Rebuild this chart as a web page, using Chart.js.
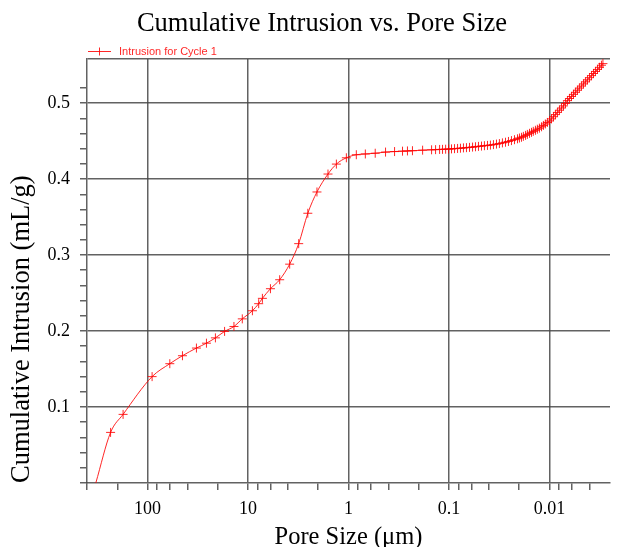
<!DOCTYPE html>
<html><head><meta charset="utf-8">
<script src="https://cdn.jsdelivr.net/npm/chart.js@4/dist/chart.umd.min.js"></script>
<style>html,body{margin:0;padding:0;background:#fff;}#wrap{width:619px;height:547px;}</style>
</head><body><div id="wrap"><canvas id="c" width="619" height="547"></canvas></div>
<script>
const chartTitle = 'Cumulative Intrusion vs. Pore Size';
const xTitle = 'Pore Size (μm)';
const yTitle = 'Cumulative Intrusion (mL/g)';
const seriesLabel = 'Intrusion for Cycle 1';
const xMajorTicks = [100, 10, 1, 0.1, 0.01];
const xMajorLabels = ['100', '10', '1', '0.1', '0.01'];
const xMinorMultipliers = [2, 4, 6, 8];
const yMajorTicks = [0.1, 0.2, 0.3, 0.4, 0.5];
const yMajorLabels = ['0.1', '0.2', '0.3', '0.4', '0.5'];

const poreSize = [327, 233, 175, 90, 60, 44.9, 32.6, 25.9, 21.1, 17.1, 13.8, 11.4, 9.04, 7.83, 7.19, 5.98, 4.84, 3.85, 3.13, 2.54, 2.06, 1.60, 1.32, 1.05, 0.836, 0.68, 0.542, 0.428,
  0.348, 0.290, 0.259, 0.231, 0.183,
  0.149, 0.136, 0.124, 0.116, 0.108, 0.101,
  0.0944, 0.0881, 0.0822, 0.0769, 0.0718, 0.0670, 0.0625, 0.0583, 0.0545, 0.0509, 0.0475, 0.0444, 0.0414, 0.0387, 0.0361, 0.0337, 0.0315, 0.0294, 0.0274, 0.0256, 0.0239, 0.0223, 0.0208,
  0.0199, 0.0190, 0.0182, 0.0173, 0.0166, 0.0158, 0.0151, 0.0145, 0.0138, 0.0132, 0.0126,
  0.0120, 0.0115, 0.0110, 0.0105, 0.0100,
  0.00955, 0.00912, 0.00873, 0.00834, 0.00796,
  0.00760, 0.00726, 0.00694, 0.00663, 0.00633,
  0.00604, 0.00577, 0.00552, 0.00527, 0.00504,
  0.00481, 0.00459, 0.00439, 0.00419, 0.00400,
  0.00382, 0.00365, 0.00349, 0.00333, 0.00318,
  0.00304, 0.00294];

const intrusion = [0.000, 0.0666, 0.0903, 0.140, 0.157, 0.1675, 0.1776, 0.184, 0.191, 0.1995, 0.206, 0.216, 0.2267, 0.236, 0.243, 0.2557, 0.2675, 0.288, 0.315, 0.355, 0.383, 0.4066, 0.4197, 0.428, 0.432, 0.433, 0.434, 0.4355,
  0.4362, 0.4367, 0.4370, 0.4373, 0.4380,
  0.4385, 0.4387, 0.4390, 0.4391, 0.4393, 0.4395,
  0.4397, 0.4400, 0.4403, 0.4406, 0.4410, 0.4413, 0.4417, 0.4421, 0.4425, 0.4430, 0.4434, 0.4439, 0.4443, 0.4447, 0.4453, 0.4460, 0.4467, 0.4476, 0.4485, 0.4495, 0.4506, 0.4518, 0.4530,
  0.4540, 0.4550, 0.4562, 0.4575, 0.4588, 0.4602, 0.4615, 0.4628, 0.4642, 0.4656, 0.4670,
  0.4688, 0.4706, 0.4725, 0.4745, 0.4765,
  0.4792, 0.4820, 0.4848, 0.4877, 0.4906,
  0.4935, 0.4963, 0.4995, 0.5032, 0.5060,
  0.5087, 0.5115, 0.5142, 0.5169, 0.5197,
  0.5224, 0.5252, 0.5279, 0.5306, 0.5334,
  0.5361, 0.5389, 0.5416, 0.5443, 0.5471,
  0.5498, 0.5519];

const GRID = 'rgba(70,70,70,0.85)';
const RED = 'rgba(255,0,0,0.85)';
const SERIF = 'Liberation Serif';
const near = (a, b) => Math.abs(a - b) <= Math.abs(b) * 1e-6 + 1e-9;
const majorXIndex = v => xMajorTicks.findIndex(m => near(v, m));
const majorYIndex = v => yMajorTicks.findIndex(m => near(v, m));

const legendLine = {
  id: 'legendLine',
  afterDraw(chart) {
    const ds = chart.data.datasets[0];
    const ca = chart.chartArea, ctx = chart.ctx;
    const y = ca.top - 7.5;
    const x0 = ca.left + 1, x1 = x0 + 23, xm = (x0 + x1) / 2;
    ctx.save();
    ctx.strokeStyle = ds.borderColor; ctx.lineWidth = 1;
    ctx.beginPath();
    ctx.moveTo(x0, y); ctx.lineTo(x1, y);
    ctx.moveTo(xm, y - 4); ctx.lineTo(xm, y + 4);
    ctx.stroke();
    ctx.fillStyle = ds.borderColor;
    ctx.font = '11px "Liberation Sans"';
    ctx.textBaseline = 'middle'; ctx.textAlign = 'left';
    ctx.fillText(ds.label, x1 + 8, y);
    ctx.restore();
  }
};

new Chart(document.getElementById('c'), {
  type: 'line',
  data: {
    datasets: [{
      label: seriesLabel,
      data: poreSize.map((x, i) => ({ x: x, y: intrusion[i] })),
      borderColor: RED, backgroundColor: RED,
      borderWidth: 1,
      pointStyle: 'cross',
      pointRadius: c => c.dataIndex === 0 ? 0 : 4.5,
      pointBorderWidth: 1,
      pointBorderColor: RED,
      cubicInterpolationMode: 'monotone',
      fill: false
    }]
  },
  options: {
    responsive: false, animation: false, devicePixelRatio: 1,
    layout: { padding: { left: 34, right: 9, top: 0, bottom: 0 } },
    plugins: {
      legend: { display: false },
      tooltip: { enabled: false },
      title: {
        display: true, text: chartTitle, color: '#000',
        font: { family: SERIF, size: 26.5, weight: 'normal' },
        padding: { top: 8, bottom: 19.2 }
      }
    },
    scales: {
      x: {
        type: 'logarithmic', reverse: true, min: 0.0025, max: 400, position: 'bottom',
        afterBuildTicks: s => {
          const bases = xMajorTicks.concat([xMajorTicks[xMajorTicks.length - 1] / 10]);
          const t = [];
          bases.forEach(b => {
            const mults = (majorXIndex(b) >= 0 ? [1] : []).concat(xMinorMultipliers);
            mults.forEach(m => {
              const v = m * b;
              if (v >= s.min * 0.999999 && v <= s.max * 1.000001) t.push({ value: v });
            });
          });
          t.sort((a, b) => a.value - b.value);
          s.ticks = t;
        },
        afterFit: s => { s.height = 64; },
        grid: {
          color: c => (c.tick && majorXIndex(c.tick.value) >= 0) ? GRID : 'rgba(0,0,0,0)',
          tickColor: GRID, lineWidth: 1.5, tickLength: 7
        },
        border: { color: GRID, width: 1.5 },
        ticks: {
          autoSkip: false, maxRotation: 0, minRotation: 0, padding: 8, color: '#000',
          font: { family: SERIF, size: 18 },
          callback: v => { const i = majorXIndex(v); return i >= 0 ? xMajorLabels[i] : ''; }
        },
        title: {
          display: true, text: xTitle, color: '#000',
          font: { family: SERIF, size: 24.5 }, padding: { top: 0, bottom: -5.5 }
        }
      },
      y: {
        type: 'linear', min: 0, max: 0.558,
        afterFit: s => { s.width = 53; },
        grid: {
          color: c => (c.tick && (majorYIndex(c.tick.value) >= 0 || near(c.tick.value, 0.558))) ? GRID : 'rgba(0,0,0,0)',
          tickColor: c => (c.tick && near(c.tick.value, 0.558)) ? 'rgba(0,0,0,0)' : GRID,
          lineWidth: 1.5, tickLength: 7
        },
        border: { color: GRID, width: 1.5 },
        ticks: {
          stepSize: 0.02, autoSkip: false, padding: 10, color: '#000',
          font: { family: SERIF, size: 18 },
          callback: v => { const i = majorYIndex(v); return i >= 0 ? yMajorLabels[i] : ''; }
        },
        title: {
          display: true, text: yTitle, color: '#000', align: 'start',
          font: { family: SERIF, size: 26.5 }, padding: { top: -27.5, bottom: 0 }
        }
      }
    }
  },
  plugins: [legendLine]
});
</script>
</body></html>
